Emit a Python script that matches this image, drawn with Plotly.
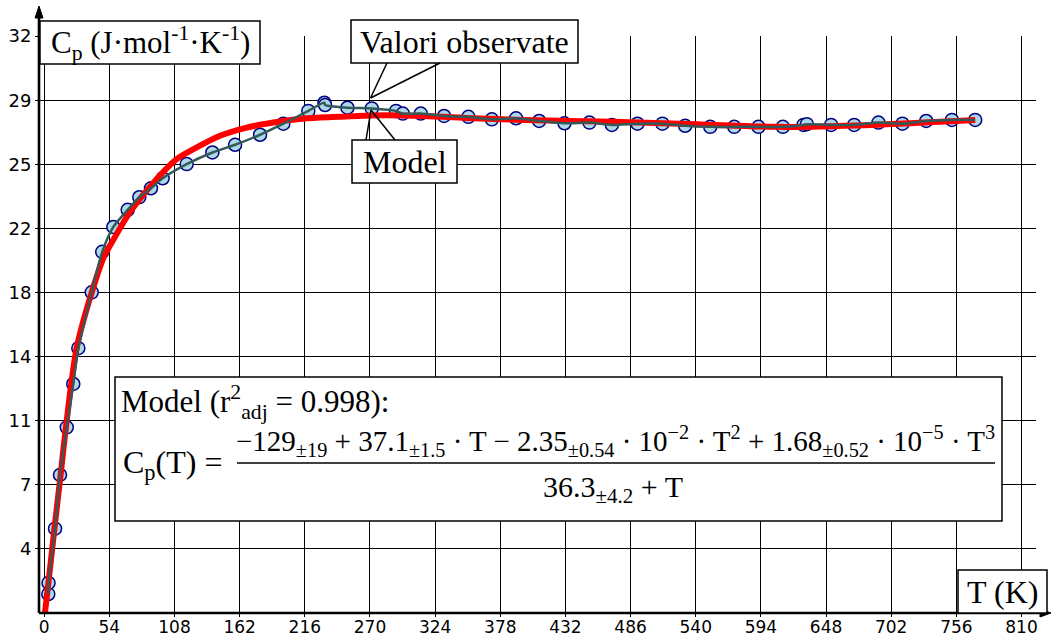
import plotly.graph_objects as go

# ---------------- data ----------------
T_obs = [3.4, 3.6, 9.0, 13.1, 18.7, 24.1, 28.3, 39.4, 48.1, 57.3, 69.2, 78.8, 88.5, 98.2,
         118.1, 139.4, 158.2, 178.9, 198.2, 218.9, 232.2, 232.8, 251.3, 271.5, 291.6, 297.2,
         312.1, 331.4, 351.6, 371.0, 391.1, 410.2, 431.2, 451.9, 470.5, 491.7, 512.4, 531.2,
         552.0, 571.9, 592.0, 612.2, 629.3, 632.1, 652.2, 671.3, 691.4, 711.3, 731.0, 752.3, 771.6]
Cp_obs = [1.14, 1.76, 4.79, 7.79, 10.45, 12.87, 14.87, 17.99, 20.25, 21.64, 22.60, 23.30, 23.80, 24.36,
          25.15, 25.80, 26.23, 26.79, 27.41, 28.12, 28.58, 28.45, 28.30, 28.26, 28.12, 27.97,
          27.97, 27.84, 27.79, 27.65, 27.71, 27.56, 27.43, 27.47, 27.34, 27.41, 27.41, 27.29,
          27.23, 27.23, 27.23, 27.23, 27.34, 27.38, 27.34, 27.34, 27.47, 27.41, 27.56, 27.62, 27.62]

T_model = [0.7, 3.5, 8.5, 13.6, 18.0, 26.9, 39.4, 50.4, 53.1, 71.1, 93.3, 109.8, 126.4, 145.7,
           167.9, 189.9, 209.3, 228.6, 245.2, 272.8, 314.3, 355.7, 397.2, 471.8, 540.9, 610.0,
           684.6, 771.6]
Cp_model = [0.12, 1.76, 4.79, 7.79, 10.45, 14.87, 17.99, 20.12, 20.43, 22.47, 24.32, 25.43, 26.08, 26.73,
            27.19, 27.47, 27.65, 27.75, 27.79, 27.87, 27.84, 27.71, 27.62, 27.51, 27.38, 27.23,
            27.34, 27.62]

x_tickvals = [0, 54, 108, 162, 216, 270, 324, 378, 432, 486, 540, 594, 648, 702, 756, 810]
x_ticktext = ["0", "54", "108", "162", "216", "270", "324", "378", "432", "486", "540",
              "594", "648", "702", "756", "810"]
y_tickvals = [3.66, 7.24, 10.82, 14.40, 17.98, 21.56, 25.14, 28.72, 32.30]
y_ticktext = ["4", "7", "11", "14", "18", "22", "25", "29", "32"]

# ---------------- layout geometry (pixels) ----------------
W, H = 1051, 639
L, R, TOP, B = 39, 1036, 36, 613


def px(x):
    return (x - L) / (R - L)


def py(y):
    return (B - y) / (B - TOP)


SERIF = "Liberation Serif, Times New Roman, serif"

fig = go.Figure()

fig.add_trace(go.Scatter(
    x=T_obs, y=Cp_obs, mode="markers", name="Valori observate",
    marker=dict(size=13, color="#ADD8E6", line=dict(color="#000080", width=1.5)),
    showlegend=False))
fig.add_trace(go.Scatter(
    x=T_model, y=Cp_model, mode="lines", name="Model",
    line=dict(color="#FF0000", width=6, shape="spline", smoothing=0.8),
    showlegend=False))
fig.add_trace(go.Scatter(
    x=T_obs, y=Cp_obs, mode="lines", name="",
    line=dict(color="#335a5a", width=2.5, shape="spline", smoothing=0.7),
    showlegend=False))

shapes = []


def line(x0, y0, x1, y1, w=1.5):
    shapes.append(dict(type="line", xref="paper", yref="paper",
                       x0=px(x0), y0=py(y0), x1=px(x1), y1=py(y1),
                       line=dict(color="black", width=w), layer="above"))


def box(x0, y0, x1, y1):
    shapes.append(dict(type="rect", xref="paper", yref="paper",
                       x0=px(x0), y0=py(y0), x1=px(x1), y1=py(y1),
                       fillcolor="white", line=dict(color="black", width=1.5), layer="above"))


def tri(pts):
    path = "M " + " L ".join(f"{px(a)},{py(b)}" for a, b in pts) + " Z"
    shapes.append(dict(type="path", xref="paper", yref="paper", path=path,
                       fillcolor="black", line=dict(color="black", width=1), layer="above"))


# axes with arrows
line(L, B, 1042, B, 2.6)
line(L, B, L, 16, 2.6)
tri([(L, 6), (L - 4, 18), (L + 4, 18)])
tri([(1051, B), (1040, B - 4), (1040, B + 4)])

# label boxes
box(40, 21, 260, 64)
box(351, 20, 578, 63)
box(352, 140, 457, 183)
box(958, 570, 1047, 613)
box(115, 377, 1002, 521)

# callout lines
line(387, 63, 370.5, 98)
line(440, 63, 370.5, 98)
line(366, 140, 371, 110)
line(395, 140, 371, 110)

# fraction bar
line(237, 463, 995, 463, 1.5)

annotations = []


def text(t, x, y, size=31, xanchor="center"):
    annotations.append(dict(text=t, xref="paper", yref="paper", x=px(x), y=py(y),
                            xanchor=xanchor, yanchor="middle", showarrow=False,
                            font=dict(family=SERIF, size=size, color="black")))


text("C<sub>p</sub> (J·mol<sup>-1</sup>·K<sup>-1</sup>)", 150, 42.5)
text("Valori observate", 464.5, 41.5, size=32)
text("Model", 404.5, 161.5, size=32)
text("T (K)", 1002.5, 591.5, size=32)
text("Model (r<sup>2</sup><sub>adj</sub> = 0.998):", 119, 402, size=31, xanchor="left")
text("C<sub>p</sub>(T) =", 121, 464, size=32, xanchor="left")
text("−129<sub>±19</sub> + 37.1<sub>±1.5</sub> · T − 2.35<sub>±0.54</sub> · 10<sup>−2</sup> · T<sup>2</sup>"
     " + 1.68<sub>±0.52</sub> · 10<sup>−5</sup> · T<sup>3</sup>", 615, 441, size=29)
text("36.3<sub>±4.2</sub> + T", 613, 489, size=30)

fig.update_layout(
    width=W, height=H,
    margin=dict(l=L, r=W - R, t=TOP, b=H - B, pad=0),
    paper_bgcolor="white", plot_bgcolor="white",
    shapes=shapes, annotations=annotations,
    showlegend=False,
    xaxis=dict(range=[-4.3, 822], tickmode="array", tickvals=x_tickvals, ticktext=x_ticktext,
               showgrid=True, gridcolor="black", gridwidth=1, zeroline=False, showline=False,
               ticks="outside", ticklen=3, tickcolor="black", automargin=False,
               ticklabelstandoff=-4,
               tickfont=dict(family="DejaVu Sans", size=17, color="black")),
    yaxis=dict(range=[0.08, 32.305], tickmode="array", tickvals=y_tickvals, ticktext=y_ticktext,
               showgrid=True, gridcolor="black", gridwidth=1, zeroline=False, showline=False,
               ticks="outside", ticklen=3, tickcolor="black", automargin=False,
               tickfont=dict(family="DejaVu Sans", size=18, color="black")),
)

fig.write_html("out.html")
